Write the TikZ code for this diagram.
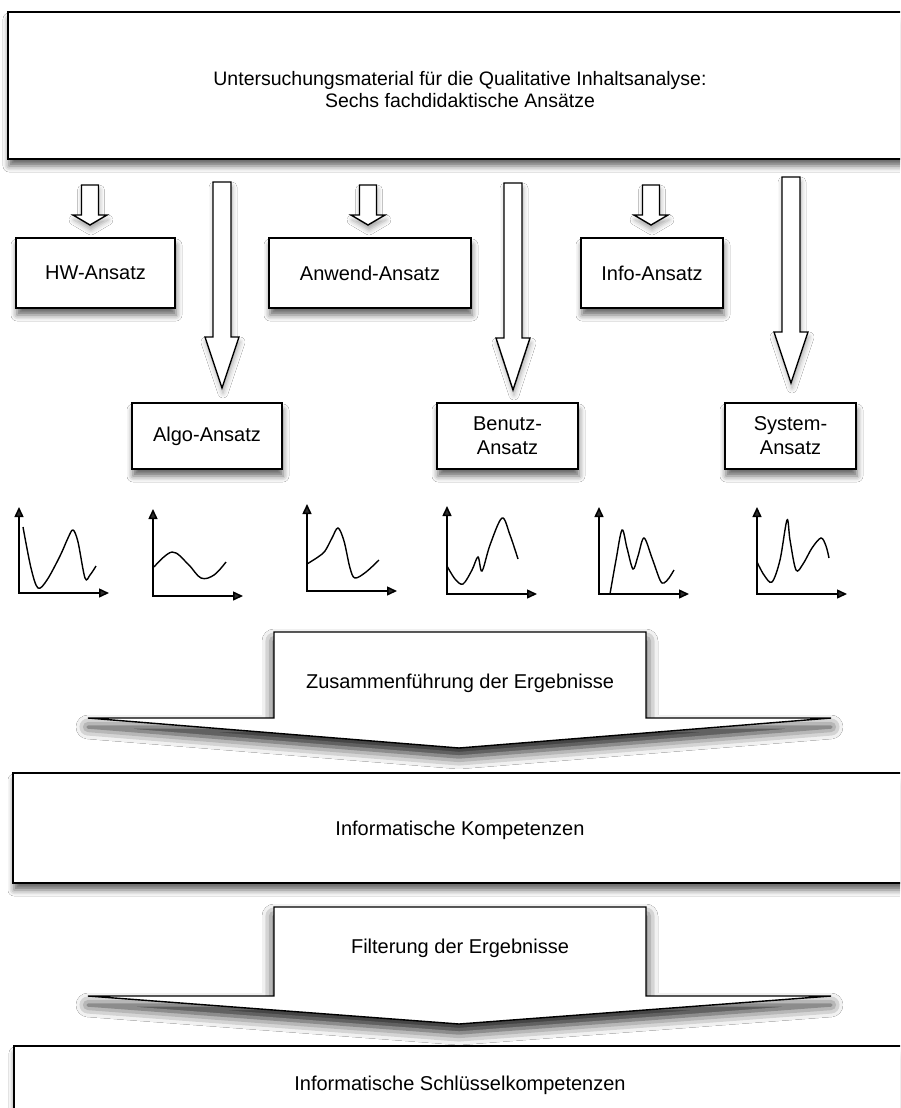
\documentclass[tikz,border=0pt]{standalone}
\usepackage{fontspec}
\setmainfont{Liberation Sans}
\usetikzlibrary{arrows.meta,shadows.blur}

\tikzset{
  lbl/.style={font=\fontsize{20}{24}\selectfont, align=center, inner sep=0pt},
  box/.style={draw=black, line width=1.6pt, fill=white, lbl,
    blur shadow={shadow xshift=1pt, shadow yshift=-7pt, shadow blur radius=6pt, shadow opacity=60}},
  blk/.style={draw=black, line width=1.4pt, fill=white, line join=miter,
    blur shadow={shadow xshift=1pt, shadow yshift=-5pt, shadow blur radius=5pt, shadow opacity=35}},
  bigblk/.style={draw=black, line width=1.4pt, fill=white, line join=miter,
    blur shadow={shadow xshift=0pt, shadow yshift=-9pt, shadow blur radius=12pt, shadow opacity=90}},
  axis/.style={line width=1.5pt, -{Triangle[length=10pt,width=9pt]}},
  curve/.style={line width=1.4pt},
}

% vertical block arrow: centre x, top, start of head, tip, half shaft width, half head width
\newcommand\blockarr[6]{%
  \draw[blk] (#1-#5,#2) -- (#1+#5,#2) -- (#1+#5,#3) -- (#1+#6,#3) -- (#1,#4)
    -- (#1-#6,#3) -- (#1-#5,#3) -- cycle;}

% small chart: origin x, origin y, top of y axis, end of x axis
\newcommand\chartaxes[4]{%
  \draw[axis] (#1,#2) -- (#1,#3);
  \draw[axis] (#1-0.7,#2) -- (#4,#2);}

\begin{document}
\begin{tikzpicture}[x=1pt,y=-1pt]
\useasboundingbox (0,0) rectangle (900,1108);
\clip (0,0) rectangle (900,1108);
\fill[white] (0,0) rectangle (900,1108);

% source material
\node[box, minimum width=922pt, minimum height=147pt] (src) at (469,85.5) {};
\node[lbl, font=\fontsize{19.5}{22}\selectfont] (srctext) at (460,90)
  {Untersuchungsmaterial für die Qualitative Inhaltsanalyse:\\Sechs fachdidaktische Ansätze};

% arrows to the six approaches
\blockarr{90}{185}{215}{225}{8.5}{17}
\blockarr{368}{185}{215}{225}{8.5}{17}
\blockarr{651}{185}{215}{225}{8.5}{17}
\blockarr{222}{182}{337}{388}{9}{17}
\blockarr{513}{183}{338}{390}{9}{17}
\blockarr{791}{177}{332}{383}{9}{17}

% the six approaches
\node[box, minimum width=159pt, minimum height=70pt] (hw) at (95.5,273) {HW-Ansatz};
\node[box, minimum width=202pt, minimum height=70pt] (anw) at (370,273) {Anwend-Ansatz};
\node[box, minimum width=142pt, minimum height=70pt] (info) at (652,273) {Info-Ansatz};
\node[box, minimum width=150pt, minimum height=66pt] (algo) at (207,436) {Algo-Ansatz};
\node[box, minimum width=141pt, minimum height=66pt] (ben) at (507.5,436) {Benutz-\\Ansatz};
\node[box, minimum width=131pt, minimum height=66pt] (sys) at (790.5,436) {System-\\Ansatz};

% result profiles
\chartaxes{19}{593}{507}{109}
\draw[curve] plot[smooth, tension=0.55] coordinates {(23,527) (31,568) (38,588) (47,580) (60,556) (68,538) (73,530) (78,542) (85,578) (90,575) (96,566)};

\chartaxes{153}{596}{509}{243}
\draw[curve] plot[smooth, tension=0.6] coordinates {(154,567) (172,552) (188,564) (201,578) (214,575) (226,562)};

\chartaxes{307}{591}{504}{397}
\draw[curve] plot[smooth, tension=0.55] coordinates {(307,564) (318,557) (325,551) (332,538) (338,528) (344,541) (350,568) (355,578) (366,572) (379,560)};

\chartaxes{447}{594}{506}{537}
\draw[curve] plot[smooth, tension=0.55] coordinates {(447,566) (455,579) (463,584) (472,570) (478,557) (482,571) (490,545) (502,518) (510,535) (518,559)};

\chartaxes{599}{594}{507}{689}
\draw[curve] plot[smooth, tension=0.55] coordinates {(610,594) (616,560) (622,530) (627,548) (633,569) (638,556) (644,538) (652,558) (660,580) (664,583) (669,578) (674,570)};

\chartaxes{757}{594}{507}{847}
\draw[curve] plot[smooth, tension=0.55] coordinates {(757,562) (764,575) (772,582) (780,560) (787,520) (790,540) (796,570) (803,564) (812,548) (821,538) (826,546) (829,558)};

% merging the results
\draw[bigblk] (274,632) -- (646,632) -- (646,718) -- (831,718) -- (459,748) -- (88,718) -- (274,718) -- cycle;
\node[lbl] (merge) at (460,683) {Zusammenführung der Ergebnisse};

\node[box, minimum width=917pt, minimum height=110pt] (komp) at (471.5,828) {};
\node[lbl] (komptext) at (460,830) {Informatische Kompetenzen};

% filtering the results
\draw[bigblk] (274,907) -- (646,907) -- (646,996) -- (831,996) -- (459,1024) -- (88,996) -- (274,996) -- cycle;
\node[lbl] (filter) at (460,948) {Filterung der Ergebnisse};

\node[box, minimum width=916pt, minimum height=110pt] (key) at (472,1101) {};
\node[lbl] (keytext) at (460,1085) {Informatische Schlüsselkompetenzen};
\end{tikzpicture}
\end{document}
